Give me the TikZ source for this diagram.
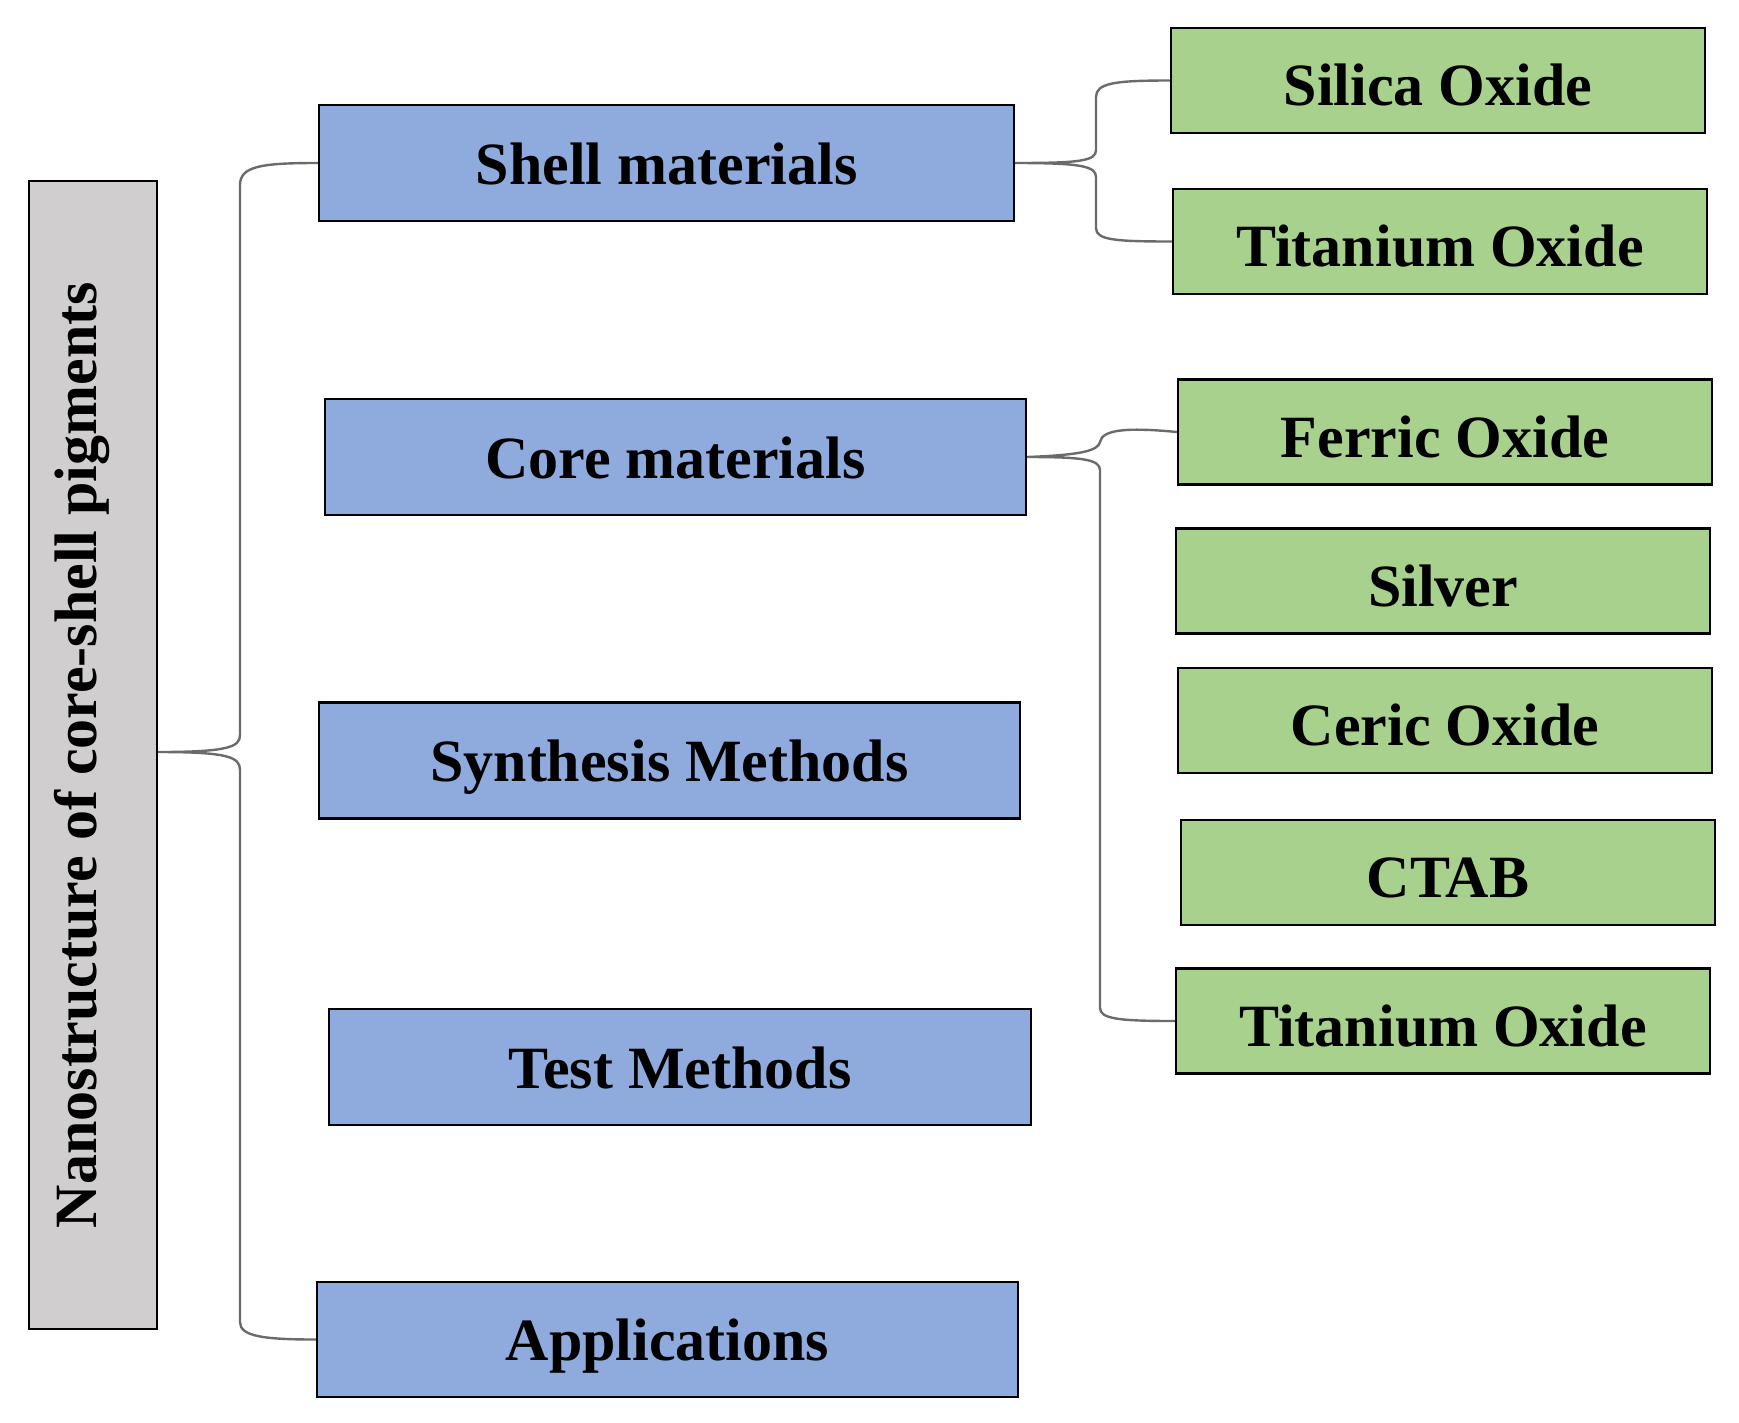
\documentclass[tikz,border=0pt]{standalone}
\usepackage{fontspec}
\setmainfont{Liberation Serif}
\begin{document}
\begin{tikzpicture}[x=1pt,y=-1pt,
  box/.style={draw=black,line width=2.4pt,inner sep=0pt,
    font=\fontsize{60}{72}\selectfont\bfseries},
  graybox/.style={box,fill=grayfill},
  bluebox/.style={box,fill=bluefill,minimum width=701pt,minimum height=116pt,
    text height=45pt,text depth=3pt},
  greenbox/.style={box,fill=greenfill,minimum width=534pt,minimum height=105pt,
    text height=50pt,text depth=0pt},
  brace/.style={draw=black!58,line width=2.4pt}]
\definecolor{grayfill}{HTML}{D0CECE}
\definecolor{bluefill}{HTML}{8FAADC}
\definecolor{greenfill}{HTML}{A9D18E}
\useasboundingbox (0,0) rectangle (1739,1422);
% root
\node[graybox,minimum width=128pt,minimum height=1148pt] (root) at (93,755) {};
\node[rotate=90,inner sep=0pt,font=\fontsize{60}{72}\selectfont\bfseries] (roottext) at (82,755) {Nanostructure of core-shell pigments};
% blue
\node[bluebox,minimum width=695pt] (shell) at (666.5,163) {Shell materials};
\node[bluebox] (core) at (675.5,457) {Core materials};
\node[bluebox] (synth) at (669.5,760.5) {Synthesis Methods};
\node[bluebox,minimum width=702pt] (test) at (680,1067) {Test Methods};
\node[bluebox,minimum height=115pt] (app) at (667.5,1339.5) {Applications};
% green
\node[greenbox] (silica) at (1438,80.5) {Silica Oxide};
\node[greenbox] (ti1) at (1440,241.5) {Titanium Oxide};
\node[greenbox] (ferric) at (1445,432) {Ferric Oxide};
\node[greenbox] (silver) at (1443,581) {Silver};
\node[greenbox] (ceric) at (1445,720.5) {Ceric Oxide};
\node[greenbox] (ctab) at (1448,872.5) {CTAB};
\node[greenbox] (ti2) at (1443,1021) {Titanium Oxide};
% main brace
\draw[brace] (shell.west) .. controls (262,163) and (240,166) .. (240,185)
  -- (240,735) .. controls (240,747) and (228,752) .. (root.east |- 0,752)
  .. controls (228,752) and (240,757) .. (240,770)
  -- (240,1322) .. controls (240,1336) and (262,1339.5) .. (app.west);
% shell brace
\draw[brace] (silica.west) .. controls (1115,80.5) and (1096,83) .. (1096,97)
  -- (1096,150) .. controls (1096,161) and (1080,163) .. (shell.east)
  .. controls (1080,163) and (1096,166) .. (1096,177)
  -- (1096,228) .. controls (1096,240) and (1115,241.5) .. (ti1.west);
% core brace
\draw[brace] (ferric.west) .. controls (1125,427) and (1102,430) .. (1100,442)
  .. controls (1098,451) and (1080,455) .. (core.east)
  .. controls (1080,457) and (1100,459) .. (1100,470)
  -- (1100,1008) .. controls (1100,1019) and (1120,1021) .. (ti2.west);
\end{tikzpicture}
\end{document}
